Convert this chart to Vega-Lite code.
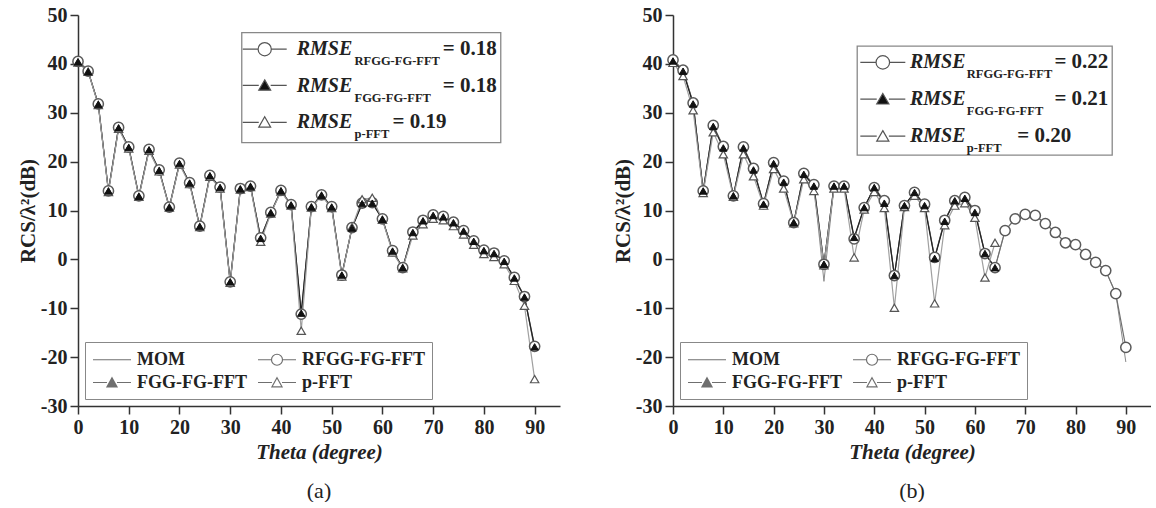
{
  "$schema": "https://vega.github.io/schema/vega-lite/v6.json",
  "background": "white",
  "padding": {"left": 17, "top": 5, "right": 0, "bottom": 0},
  "spacing": 52,
  "config": {
    "view": {"stroke": null},
    "font": "Liberation Serif",
    "axis": {"domainColor": "#333", "domainWidth": 1.5, "tickColor": "#333", "tickWidth": 1.5, "labelFont": "Liberation Serif", "labelFontSize": 20, "labelFontWeight": "bold", "labelColor": "#222", "labelPadding": 3, "labelFlush": false, "labelOverlap": false, "titleFont": "Liberation Serif", "titleFontSize": 21, "titleFontWeight": "bold", "titleColor": "#222", "grid": false},
    "axisX": {"titlePadding": 4},
    "axisY": {"titlePadding": 2},
    "legend": {"orient": "bottom-left", "direction": "horizontal", "offset": 7, "columns": 2, "padding": 7, "strokeColor": "#888", "labelFont": "Liberation Serif", "labelFontSize": 18, "labelFontWeight": "bold", "labelColor": "#222", "symbolSize": 361, "symbolStrokeWidth": 1.2, "symbolStrokeColor": "#333", "columnPadding": 8, "rowPadding": 3, "labelOffset": 24},
    "title": {"font": "Liberation Serif", "fontSize": 22, "fontWeight": "normal", "color": "#222"}
  },
  "resolve": {"scale": {"shape": "independent"}, "legend": {"shape": "independent"}},
  "datasets": {
    "a": [
      {"t": 0, "mom": 41, "rfgg": 40.5, "fgg": 40.4, "pfft": 40.3},
      {"t": 2, "mom": 38.6, "rfgg": 38.5, "fgg": 38.4, "pfft": 38.4},
      {"t": 4, "mom": 31.8, "rfgg": 31.8, "fgg": 31.7, "pfft": 31.6},
      {"t": 6, "mom": 14, "rfgg": 14, "fgg": 14, "pfft": 13.8},
      {"t": 8, "mom": 27.1, "rfgg": 27, "fgg": 26.9, "pfft": 26.7},
      {"t": 10, "mom": 23, "rfgg": 23, "fgg": 22.9, "pfft": 22.7},
      {"t": 12, "mom": 13, "rfgg": 13, "fgg": 12.9, "pfft": 12.8},
      {"t": 14, "mom": 22.6, "rfgg": 22.5, "fgg": 22.4, "pfft": 22.2},
      {"t": 16, "mom": 18.3, "rfgg": 18.3, "fgg": 18.2, "pfft": 18},
      {"t": 18, "mom": 10.8, "rfgg": 10.7, "fgg": 10.6, "pfft": 10.6},
      {"t": 20, "mom": 19.7, "rfgg": 19.7, "fgg": 19.6, "pfft": 19.4},
      {"t": 22, "mom": 15.7, "rfgg": 15.7, "fgg": 15.6, "pfft": 15.4},
      {"t": 24, "mom": 6.8, "rfgg": 6.8, "fgg": 6.7, "pfft": 6.6},
      {"t": 26, "mom": 17.2, "rfgg": 17.2, "fgg": 17.1, "pfft": 16.9},
      {"t": 28, "mom": 14.8, "rfgg": 14.8, "fgg": 14.7, "pfft": 14.5},
      {"t": 30, "mom": -4.6, "rfgg": -4.6, "fgg": -4.6, "pfft": -4.8},
      {"t": 32, "mom": 14.5, "rfgg": 14.5, "fgg": 14.4, "pfft": 14.3},
      {"t": 34, "mom": 15, "rfgg": 15, "fgg": 14.9, "pfft": 14.8},
      {"t": 36, "mom": 4.4, "rfgg": 4.4, "fgg": 4.3, "pfft": 3.6},
      {"t": 38, "mom": 9.6, "rfgg": 9.6, "fgg": 9.5, "pfft": 9.4},
      {"t": 40, "mom": 14.1, "rfgg": 14.1, "fgg": 14, "pfft": 13.9},
      {"t": 42, "mom": 11.2, "rfgg": 11.2, "fgg": 11.1, "pfft": 11},
      {"t": 44, "mom": -11.5, "rfgg": -11.2, "fgg": -11, "pfft": -14.6},
      {"t": 46, "mom": 10.8, "rfgg": 10.8, "fgg": 10.7, "pfft": 10.6},
      {"t": 48, "mom": 13.2, "rfgg": 13.2, "fgg": 13.1, "pfft": 13},
      {"t": 50, "mom": 10.8, "rfgg": 10.8, "fgg": 10.7, "pfft": 10.5},
      {"t": 52, "mom": -3.2, "rfgg": -3.2, "fgg": -3.2, "pfft": -3.5},
      {"t": 54, "mom": 6.5, "rfgg": 6.5, "fgg": 6.4, "pfft": 6.6},
      {"t": 56, "mom": 11.5, "rfgg": 11.5, "fgg": 11.4, "pfft": 12.3},
      {"t": 58, "mom": 11.6, "rfgg": 11.6, "fgg": 11.5, "pfft": 12.6},
      {"t": 60, "mom": 8.3, "rfgg": 8.3, "fgg": 8.2, "pfft": 8.1},
      {"t": 62, "mom": 1.8, "rfgg": 1.8, "fgg": 1.7, "pfft": 1.4},
      {"t": 64, "mom": -1.7, "rfgg": -1.7, "fgg": -1.7, "pfft": -1.8},
      {"t": 66, "mom": 5.6, "rfgg": 5.6, "fgg": 5.5, "pfft": 4.9},
      {"t": 68, "mom": 8, "rfgg": 8, "fgg": 7.9, "pfft": 7.2},
      {"t": 70, "mom": 9.1, "rfgg": 9.1, "fgg": 9, "pfft": 8.3},
      {"t": 72, "mom": 8.8, "rfgg": 8.8, "fgg": 8.7, "pfft": 8},
      {"t": 74, "mom": 7.6, "rfgg": 7.6, "fgg": 7.5, "pfft": 6.8},
      {"t": 76, "mom": 5.9, "rfgg": 5.9, "fgg": 5.8, "pfft": 5.1},
      {"t": 78, "mom": 3.8, "rfgg": 3.8, "fgg": 3.7, "pfft": 3},
      {"t": 80, "mom": 1.9, "rfgg": 1.9, "fgg": 1.8, "pfft": 1.1},
      {"t": 82, "mom": 1.3, "rfgg": 1.3, "fgg": 1.2, "pfft": 0.5},
      {"t": 84, "mom": -0.3, "rfgg": -0.3, "fgg": -0.4, "pfft": -1},
      {"t": 86, "mom": -3.7, "rfgg": -3.7, "fgg": -3.8, "pfft": -4.4},
      {"t": 88, "mom": -7.6, "rfgg": -7.6, "fgg": -7.7, "pfft": -9.5},
      {"t": 90, "mom": -18.5, "rfgg": -17.8, "fgg": -17.9, "pfft": -24.5}
    ],
    "b": [
      {"t": 0, "mom": 41, "rfgg": 40.8, "fgg": 40.6, "pfft": 40.2},
      {"t": 2, "mom": 38.8, "rfgg": 38.7, "fgg": 38.5, "pfft": 37.5},
      {"t": 4, "mom": 32, "rfgg": 32, "fgg": 31.8, "pfft": 30.5},
      {"t": 6, "mom": 14, "rfgg": 14, "fgg": 14, "pfft": 13.6},
      {"t": 8, "mom": 27.4, "rfgg": 27.4, "fgg": 27.2, "pfft": 26},
      {"t": 10, "mom": 23.1, "rfgg": 23.1, "fgg": 22.8, "pfft": 21.5},
      {"t": 12, "mom": 13, "rfgg": 13, "fgg": 13, "pfft": 12.8},
      {"t": 14, "mom": 23, "rfgg": 23, "fgg": 22.8, "pfft": 21.5},
      {"t": 16, "mom": 18.6, "rfgg": 18.6, "fgg": 18.3, "pfft": 17},
      {"t": 18, "mom": 11.4, "rfgg": 11.4, "fgg": 11.3, "pfft": 11},
      {"t": 20, "mom": 19.8, "rfgg": 19.8, "fgg": 19.6, "pfft": 18.5},
      {"t": 22, "mom": 16, "rfgg": 16, "fgg": 15.8, "pfft": 14.5},
      {"t": 24, "mom": 7.5, "rfgg": 7.5, "fgg": 7.5, "pfft": 7.4},
      {"t": 26, "mom": 17.6, "rfgg": 17.6, "fgg": 17.4, "pfft": 16.4},
      {"t": 28, "mom": 15.3, "rfgg": 15.3, "fgg": 15, "pfft": 14},
      {"t": 30, "mom": -4.5, "rfgg": -1, "fgg": -1, "pfft": -1.2},
      {"t": 32, "mom": 15, "rfgg": 15, "fgg": 15, "pfft": 14.5},
      {"t": 34, "mom": 15, "rfgg": 15, "fgg": 15, "pfft": 14.5},
      {"t": 36, "mom": 4.2, "rfgg": 4.2, "fgg": 4.5, "pfft": 0.4},
      {"t": 38, "mom": 10.6, "rfgg": 10.6, "fgg": 10.6, "pfft": 10.2},
      {"t": 40, "mom": 14.7, "rfgg": 14.7, "fgg": 14.7, "pfft": 13.8},
      {"t": 42, "mom": 12, "rfgg": 12, "fgg": 11.5, "pfft": 10.5},
      {"t": 44, "mom": -3.5, "rfgg": -3.3, "fgg": -3.3, "pfft": -9.9},
      {"t": 46, "mom": 11, "rfgg": 11, "fgg": 11, "pfft": 10.7},
      {"t": 48, "mom": 13.7, "rfgg": 13.7, "fgg": 13.7, "pfft": 13},
      {"t": 50, "mom": 11.3, "rfgg": 11.3, "fgg": 11, "pfft": 10.5},
      {"t": 52, "mom": 0.3, "rfgg": 0.4, "fgg": 0.2, "pfft": -9},
      {"t": 54, "mom": 8, "rfgg": 8, "fgg": 7.8, "pfft": 7},
      {"t": 56, "mom": 12, "rfgg": 12, "fgg": 12, "pfft": 11},
      {"t": 58, "mom": 12.7, "rfgg": 12.7, "fgg": 12.5, "pfft": 11.5},
      {"t": 60, "mom": 10, "rfgg": 10, "fgg": 9.6, "pfft": 8.5},
      {"t": 62, "mom": 1.2, "rfgg": 1.2, "fgg": 1.2, "pfft": -3.7},
      {"t": 64, "mom": -1.7, "rfgg": -1.7, "fgg": -1.7, "pfft": 3.4},
      {"t": 66, "mom": 5.9, "rfgg": 5.9, "fgg": null, "pfft": null},
      {"t": 68, "mom": 8.3, "rfgg": 8.3, "fgg": null, "pfft": null},
      {"t": 70, "mom": 9.2, "rfgg": 9.2, "fgg": null, "pfft": null},
      {"t": 72, "mom": 9, "rfgg": 9, "fgg": null, "pfft": null},
      {"t": 74, "mom": 7.3, "rfgg": 7.3, "fgg": null, "pfft": null},
      {"t": 76, "mom": 5.5, "rfgg": 5.5, "fgg": null, "pfft": null},
      {"t": 78, "mom": 3.4, "rfgg": 3.4, "fgg": null, "pfft": null},
      {"t": 80, "mom": 3, "rfgg": 3, "fgg": null, "pfft": null},
      {"t": 82, "mom": 1, "rfgg": 1, "fgg": null, "pfft": null},
      {"t": 84, "mom": -0.6, "rfgg": -0.6, "fgg": null, "pfft": null},
      {"t": 86, "mom": -2.3, "rfgg": -2.3, "fgg": null, "pfft": null},
      {"t": 88, "mom": -7, "rfgg": -7, "fgg": null, "pfft": null},
      {"t": 90, "mom": -21, "rfgg": -18, "fgg": null, "pfft": null}
    ],
    "methods": [
      {"method": "MOM"}, {"method": "RFGG-FG-FFT"}, {"method": "FGG-FG-FFT"}, {"method": "p-FFT"}
    ]
  },
  "hconcat": [
    {
      "width": 482, "height": 391,
      "title": {"text": "(a)", "orient": "bottom", "offset": 19},
      "layer": [
        {
          "data": {"name": "a"},
          "transform": [{"fold": ["mom", "rfgg", "fgg", "pfft"], "as": ["series", "rcs"]}, {"filter": "datum.rcs != null"}],
          "encoding": {
            "x": {"field": "t", "type": "quantitative", "title": "Theta (degree)", "scale": {"domain": [0, 95], "nice": false, "zero": false},
              "axis": {"values": [0,5,10,15,20,25,30,35,40,45,50,55,60,65,70,75,80,85,90,95], "labelExpr": "datum.value % 10 === 0 && datum.value <= 90 ? '' + datum.value : ''", "tickSize": {"condition": {"test": "datum.value % 10 === 0", "value": 8}, "value": 4}, "titleFontStyle": "italic"}},
            "y": {"field": "rcs", "type": "quantitative", "title": "RCS/λ²(dB)", "scale": {"domain": [-30, 50], "nice": false, "zero": false},
              "axis": {"values": [-30,-25,-20,-15,-10,-5,0,5,10,15,20,25,30,35,40,45,50], "labelExpr": "datum.value % 10 === 0 ? '' + datum.value : ''", "tickSize": {"condition": {"test": "datum.value % 10 === 0", "value": 8}, "value": 4}}}
          },
          "layer": [
            {"transform": [{"filter": "datum.series === 'mom'"}], "mark": {"type": "line", "stroke": "#8a8a8a", "strokeWidth": 1}},
            {"transform": [{"filter": "datum.series !== 'mom'"}], "mark": {"type": "line", "strokeWidth": 1.2},
              "encoding": {"stroke": {"field": "series", "type": "nominal", "scale": {"domain": ["rfgg", "fgg", "pfft"], "range": ["#707070", "#222222", "#a0a0a0"]}, "legend": null}}},
            {"transform": [{"filter": "datum.series === 'rfgg'"}], "mark": {"type": "point", "shape": "circle", "size": 105, "filled": true, "fill": "white", "stroke": "#5a5a5a", "strokeWidth": 1.5, "opacity": 1}},
            {"transform": [{"filter": "datum.series === 'pfft'"}], "mark": {"type": "point", "shape": "triangle-up", "size": 70, "filled": true, "fill": "white", "stroke": "#555", "strokeWidth": 1.2, "opacity": 1}},
            {"transform": [{"filter": "datum.series === 'fgg'"}], "mark": {"type": "point", "shape": "triangle-up", "size": 55, "filled": true, "fill": "#111", "stroke": "#111", "strokeWidth": 1, "opacity": 1}}
          ]
        },
        {"data": {"name": "methods"}, "transform": [{"filter": "false"}], "mark": {"type": "point", "filled": false, "color": "#333", "strokeWidth": 1.2},
          "encoding": {"x": {"datum": 0, "type": "quantitative"}, "y": {"datum": 0, "type": "quantitative"},
            "shape": {"field": "method", "type": "nominal", "title": null, "scale": {"domain": ["MOM", "RFGG-FG-FFT", "FGG-FG-FFT", "p-FFT"], "range": ["M-1,0H3", "M-1,0H0.42M1.58,0H3M1.58,0A0.58,0.58,0,1,1,0.42,0A0.58,0.58,0,1,1,1.58,0Z", "M-1,0H0.47M1.53,0H3M1,-0.5L1.53,0.45L0.47,0.45ZM1,-0.37L1.42,0.39L0.58,0.39ZM1,-0.25L1.32,0.32L0.68,0.32ZM1,-0.12L1.21,0.26L0.79,0.26ZM1,0L1.11,0.19L0.89,0.19Z", "M-1,0H0.47M1.53,0H3M1,-0.5L1.53,0.45L0.47,0.45Z"]}}}},
        {"data": {"values": [{"k": 1}]}, "mark": {"type": "point", "shape": "M-1,-0.4247H1V0.4247H-1Z", "size": 67081, "filled": false, "stroke": "#888", "strokeWidth": 1.3, "opacity": 1},
          "encoding": {"x": {"datum": 57.8, "type": "quantitative"}, "y": {"datum": 35.15, "type": "quantitative"}}},
        {"data": {"values": [{"k": 1}]}, "mark": {"type": "point", "shape": "M-1,0H-0.3M0.3,0H1M0.3,0A0.3,0.3,0,1,1,-0.3,0A0.3,0.3,0,1,1,0.3,0Z", "size": 1936, "filled": true, "fill": "white", "stroke": "#555", "strokeWidth": 1.2, "opacity": 1},
          "encoding": {"x": {"datum": 36.8, "type": "quantitative"}, "y": {"datum": 43, "type": "quantitative"}}},
        {"data": {"values": [{"k": 1}]}, "mark": {"type": "point", "shape": "M-1,0H-0.27M0.27,0H1M0,-0.25L0.27,0.22L-0.27,0.22Z", "size": 1936, "filled": true, "fill": "#111", "stroke": "#555", "strokeWidth": 1.2, "opacity": 1},
          "encoding": {"x": {"datum": 36.8, "type": "quantitative"}, "y": {"datum": 35.6, "type": "quantitative"}}},
        {"data": {"values": [{"k": 1}]}, "mark": {"type": "point", "shape": "M-1,0H-0.27M0.27,0H1M0,-0.25L0.27,0.22L-0.27,0.22Z", "size": 1936, "filled": true, "fill": "white", "stroke": "#555", "strokeWidth": 1.2, "opacity": 1},
          "encoding": {"x": {"datum": 36.8, "type": "quantitative"}, "y": {"datum": 28.05, "type": "quantitative"}}},
        {"data": {"values": [{"k": 1}]}, "mark": {"type": "text", "font": "Liberation Serif", "fontSize": 20, "fontWeight": "bold", "fontStyle": "italic", "align": "left", "baseline": "middle", "lineHeight": 36.5, "color": "#222"},
          "encoding": {"x": {"datum": 43.1, "type": "quantitative"}, "y": {"datum": 43, "type": "quantitative"}, "text": {"value": ["RMSE", "RMSE", "RMSE"]}}},
        {"data": {"values": [{"k": 1}]}, "mark": {"type": "text", "font": "Liberation Serif", "fontSize": 12.5, "fontWeight": "bold", "align": "left", "baseline": "middle", "lineHeight": 36.5, "dy": 12, "color": "#222"},
          "encoding": {"x": {"datum": 54.5, "type": "quantitative"}, "y": {"datum": 43, "type": "quantitative"}, "text": {"value": ["RFGG-FG-FFT", "FGG-FG-FFT", "p-FFT"]}}},
        {"data": {"values": [{"k": 1}]}, "mark": {"type": "text", "font": "Liberation Serif", "fontSize": 21, "fontWeight": "bold", "align": "left", "baseline": "middle", "lineHeight": 36.5, "color": "#222"},
          "encoding": {"x": {"datum": 71.9, "type": "quantitative"}, "y": {"datum": 43, "type": "quantitative"}, "text": {"value": ["= 0.18", "=  0.18"]}}},
        {"data": {"values": [{"k": 1}]}, "mark": {"type": "text", "font": "Liberation Serif", "fontSize": 21, "fontWeight": "bold", "align": "left", "baseline": "middle", "color": "#222"},
          "encoding": {"x": {"datum": 62, "type": "quantitative"}, "y": {"datum": 28.05, "type": "quantitative"}, "text": {"value": "= 0.19"}}}
      ]
    },
    {
      "width": 478, "height": 391,
      "title": {"text": "(b)", "orient": "bottom", "offset": 19},
      "layer": [
        {
          "data": {"name": "b"},
          "transform": [{"fold": ["mom", "rfgg", "fgg", "pfft"], "as": ["series", "rcs"]}, {"filter": "datum.rcs != null"}],
          "encoding": {
            "x": {"field": "t", "type": "quantitative", "title": "Theta (degree)", "scale": {"domain": [0, 95], "nice": false, "zero": false},
              "axis": {"values": [0,5,10,15,20,25,30,35,40,45,50,55,60,65,70,75,80,85,90,95], "labelExpr": "datum.value % 10 === 0 && datum.value <= 90 ? '' + datum.value : ''", "tickSize": {"condition": {"test": "datum.value % 10 === 0", "value": 8}, "value": 4}, "titleFontStyle": "italic"}},
            "y": {"field": "rcs", "type": "quantitative", "title": "RCS/λ²(dB)", "scale": {"domain": [-30, 50], "nice": false, "zero": false},
              "axis": {"values": [-30,-25,-20,-15,-10,-5,0,5,10,15,20,25,30,35,40,45,50], "labelExpr": "datum.value % 10 === 0 ? '' + datum.value : ''", "tickSize": {"condition": {"test": "datum.value % 10 === 0", "value": 8}, "value": 4}}}
          },
          "layer": [
            {"transform": [{"filter": "datum.series === 'mom'"}], "mark": {"type": "line", "stroke": "#8a8a8a", "strokeWidth": 1}},
            {"transform": [{"filter": "datum.series !== 'mom'"}], "mark": {"type": "line", "strokeWidth": 1.2},
              "encoding": {"stroke": {"field": "series", "type": "nominal", "scale": {"domain": ["rfgg", "fgg", "pfft"], "range": ["#707070", "#222222", "#a0a0a0"]}, "legend": null}}},
            {"transform": [{"filter": "datum.series === 'rfgg'"}], "mark": {"type": "point", "shape": "circle", "size": 105, "filled": true, "fill": "white", "stroke": "#5a5a5a", "strokeWidth": 1.5, "opacity": 1}},
            {"transform": [{"filter": "datum.series === 'pfft'"}], "mark": {"type": "point", "shape": "triangle-up", "size": 70, "filled": true, "fill": "white", "stroke": "#555", "strokeWidth": 1.2, "opacity": 1}},
            {"transform": [{"filter": "datum.series === 'fgg'"}], "mark": {"type": "point", "shape": "triangle-up", "size": 55, "filled": true, "fill": "#111", "stroke": "#111", "strokeWidth": 1, "opacity": 1}}
          ]
        },
        {"data": {"name": "methods"}, "transform": [{"filter": "false"}], "mark": {"type": "point", "filled": false, "color": "#333", "strokeWidth": 1.2},
          "encoding": {"x": {"datum": 0, "type": "quantitative"}, "y": {"datum": 0, "type": "quantitative"},
            "shape": {"field": "method", "type": "nominal", "title": null, "scale": {"domain": ["MOM", "RFGG-FG-FFT", "FGG-FG-FFT", "p-FFT"], "range": ["M-1,0H3", "M-1,0H0.42M1.58,0H3M1.58,0A0.58,0.58,0,1,1,0.42,0A0.58,0.58,0,1,1,1.58,0Z", "M-1,0H0.47M1.53,0H3M1,-0.5L1.53,0.45L0.47,0.45ZM1,-0.37L1.42,0.39L0.58,0.39ZM1,-0.25L1.32,0.32L0.68,0.32ZM1,-0.12L1.21,0.26L0.79,0.26ZM1,0L1.11,0.19L0.89,0.19Z", "M-1,0H0.47M1.53,0H3M1,-0.5L1.53,0.45L0.47,0.45Z"]}}}},
        {"data": {"values": [{"k": 1}]}, "mark": {"type": "point", "shape": "M-1,-0.4275H1V0.4275H-1Z", "size": 65025, "filled": false, "stroke": "#888", "strokeWidth": 1.3, "opacity": 1},
          "encoding": {"x": {"datum": 61.95, "type": "quantitative"}, "y": {"datum": 32.5, "type": "quantitative"}}},
        {"data": {"values": [{"k": 1}]}, "mark": {"type": "point", "shape": "M-1,0H-0.3M0.3,0H1M0.3,0A0.3,0.3,0,1,1,-0.3,0A0.3,0.3,0,1,1,0.3,0Z", "size": 2025, "filled": true, "fill": "white", "stroke": "#555", "strokeWidth": 1.2, "opacity": 1},
          "encoding": {"x": {"datum": 41.7, "type": "quantitative"}, "y": {"datum": 40.3, "type": "quantitative"}}},
        {"data": {"values": [{"k": 1}]}, "mark": {"type": "point", "shape": "M-1,0H-0.27M0.27,0H1M0,-0.25L0.27,0.22L-0.27,0.22Z", "size": 2025, "filled": true, "fill": "#111", "stroke": "#555", "strokeWidth": 1.2, "opacity": 1},
          "encoding": {"x": {"datum": 41.7, "type": "quantitative"}, "y": {"datum": 32.8, "type": "quantitative"}}},
        {"data": {"values": [{"k": 1}]}, "mark": {"type": "point", "shape": "M-1,0H-0.27M0.27,0H1M0,-0.25L0.27,0.22L-0.27,0.22Z", "size": 2025, "filled": true, "fill": "white", "stroke": "#555", "strokeWidth": 1.2, "opacity": 1},
          "encoding": {"x": {"datum": 41.7, "type": "quantitative"}, "y": {"datum": 25.2, "type": "quantitative"}}},
        {"data": {"values": [{"k": 1}]}, "mark": {"type": "text", "font": "Liberation Serif", "fontSize": 20, "fontWeight": "bold", "fontStyle": "italic", "align": "left", "baseline": "middle", "lineHeight": 36.7, "color": "#222"},
          "encoding": {"x": {"datum": 47.1, "type": "quantitative"}, "y": {"datum": 40.3, "type": "quantitative"}, "text": {"value": ["RMSE", "RMSE", "RMSE"]}}},
        {"data": {"values": [{"k": 1}]}, "mark": {"type": "text", "font": "Liberation Serif", "fontSize": 12.5, "fontWeight": "bold", "align": "left", "baseline": "middle", "lineHeight": 36.7, "dy": 12, "color": "#222"},
          "encoding": {"x": {"datum": 58.4, "type": "quantitative"}, "y": {"datum": 40.3, "type": "quantitative"}, "text": {"value": ["RFGG-FG-FFT", "FGG-FG-FFT", "p-FFT"]}}},
        {"data": {"values": [{"k": 1}]}, "mark": {"type": "text", "font": "Liberation Serif", "fontSize": 21, "fontWeight": "bold", "align": "left", "baseline": "middle", "lineHeight": 36.7, "color": "#222"},
          "encoding": {"x": {"datum": 75.8, "type": "quantitative"}, "y": {"datum": 40.3, "type": "quantitative"}, "text": {"value": ["= 0.22", "=  0.21"]}}},
        {"data": {"values": [{"k": 1}]}, "mark": {"type": "text", "font": "Liberation Serif", "fontSize": 21, "fontWeight": "bold", "align": "left", "baseline": "middle", "color": "#222"},
          "encoding": {"x": {"datum": 68.4, "type": "quantitative"}, "y": {"datum": 25.2, "type": "quantitative"}, "text": {"value": "= 0.20"}}}
      ]
    }
  ]
}
